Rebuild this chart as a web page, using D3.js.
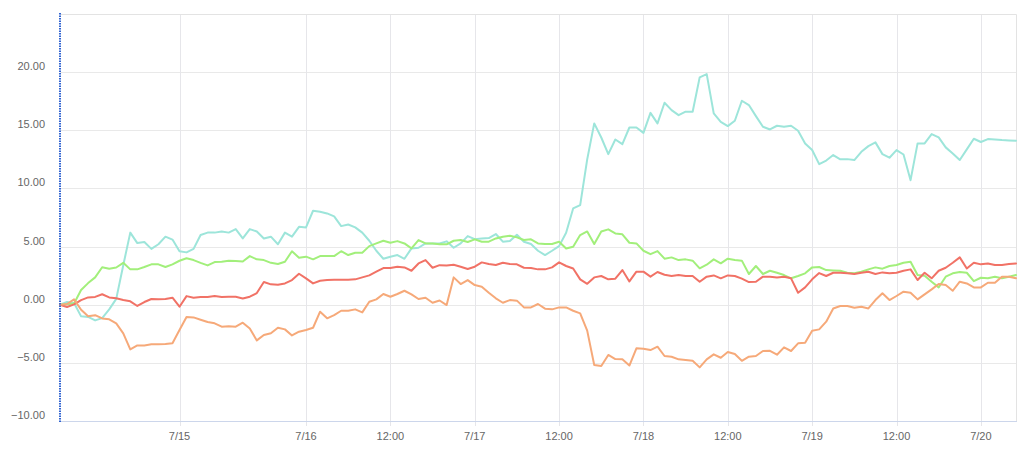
<!DOCTYPE html>
<html>
<head>
<meta charset="utf-8">
<script src="https://cdn.jsdelivr.net/npm/d3@7"></script>
<style>
  html, body { margin: 0; padding: 0; background: #ffffff; }
  svg { display: block; }
  text { font-family: "Liberation Sans", Arial, sans-serif; }
</style>
</head>
<body>
<svg id="chart" width="1024" height="456"></svg>
<script>
// ---- data (hourly points, index 0..136) ----
const tickIndex  = [17, 35, 47, 59, 71, 83, 95, 107, 119, 131];
const tickLabels = ["7/15", "7/16", "12:00", "7/17", "12:00", "7/18", "12:00", "7/19", "12:00", "7/20"];
const yTicks = [-10, -5, 0, 5, 10, 15, 20];

const seriesCyan = [
  0, 0.23, 0.15, -1.0, -1.05, -1.35, -1.15, -0.4, 0.5, 3.4,
  6.2, 5.3, 5.4, 4.8, 5.2, 5.85, 5.6, 4.6, 4.5, 4.8,
  6.0, 6.2, 6.2, 6.3, 6.2, 6.5, 5.7, 6.5, 6.3, 5.7,
  5.85, 5.2, 6.2, 5.85, 6.7, 6.65, 8.08, 8.0, 7.85, 7.6,
  6.76, 6.9, 6.65, 6.2, 5.5, 4.64, 3.95, 4.13, 4.27, 3.95,
  4.84, 4.9, 5.27, 5.27, 5.27, 5.45, 4.9, 5.27, 5.9, 5.64,
  5.7, 5.73, 6.08, 5.42, 5.47, 6.02, 5.42, 5.22, 4.64, 4.27,
  4.64, 5.04, 6.19, 8.28, 8.57, 12.5, 15.59, 14.38, 12.95, 14.21,
  13.81, 15.24, 15.24, 14.78, 16.5, 15.59, 17.37, 16.73, 16.3, 16.6,
  16.6, 19.55, 19.83, 16.45, 15.73, 15.36, 15.82, 17.54, 17.17, 16.22,
  15.3, 15.07, 15.39, 15.3, 15.39, 14.96, 13.87, 13.3, 12.09, 12.4,
  12.87, 12.5, 12.52, 12.44, 13.15, 13.64, 13.96, 12.95, 12.64, 13.3,
  12.92, 10.71, 13.87, 13.87, 14.67, 14.39, 13.53, 13.01, 12.44, 13.36,
  14.27, 13.99, 14.24, 14.21, 14.16, 14.13, 14.1
];
const seriesGreen = [
  0, 0.05, 0.1, 1.26, 1.86, 2.35, 3.22, 3.1, 3.2, 3.6,
  3.04, 3.04, 3.24, 3.47, 3.47, 3.24, 3.47, 3.78, 4.0, 3.84,
  3.6, 3.38, 3.67, 3.7, 3.78, 3.75, 3.72, 4.18, 3.9, 3.84,
  3.6, 3.5, 3.7, 4.6, 4.04, 4.13, 3.9, 4.18, 4.18, 4.18,
  4.6, 4.27, 4.47, 4.47, 5.04, 5.27, 5.5, 5.33, 5.47, 5.27,
  4.84, 5.56, 5.27, 5.27, 5.2, 5.19, 5.5, 5.56, 5.39, 5.62,
  5.42, 5.42, 5.7, 5.85, 5.93, 5.79, 5.56, 5.62, 5.27, 5.22,
  5.22, 5.42, 4.84, 4.99, 5.99, 6.3, 5.22, 6.3, 6.48, 6.13,
  6.05, 5.33, 5.27, 4.64, 4.35, 4.61, 3.96, 4.07, 3.84, 3.9,
  3.79, 3.13, 3.44, 3.9, 3.56, 3.96, 3.84, 3.79, 2.64, 3.33,
  2.64, 2.92, 2.75, 2.55, 2.27, 2.47, 2.7, 3.21, 3.24, 2.98,
  2.95, 2.92, 2.75, 2.7, 2.84, 3.04, 3.21, 3.1, 3.33, 3.41,
  3.61, 3.7, 2.55, 2.5, 1.98, 1.49, 2.41, 2.7, 2.81, 2.75,
  2.03, 2.32, 2.27, 2.41, 2.27, 2.41, 2.55
];
const seriesRed = [
  0, -0.2, 0.03, 0.4, 0.63, 0.67, 0.9, 0.63, 0.55, 0.4,
  0.29, -0.11, 0.23, 0.49, 0.46, 0.49, 0.6, -0.17, 0.74, 0.6,
  0.66, 0.66, 0.74, 0.66, 0.69, 0.69, 0.54, 0.69, 1.0, 1.95,
  1.75, 1.72, 1.83, 2.12, 2.66, 2.26, 1.83, 2.06, 2.12, 2.15,
  2.15, 2.15, 2.18, 2.35, 2.52, 2.84, 3.15, 3.15, 3.27, 3.21,
  2.92, 3.55, 3.84, 3.18, 3.4, 3.38, 3.44, 3.27, 3.07, 3.27,
  3.64, 3.5, 3.41, 3.61, 3.5, 3.47, 3.18, 3.15, 3.04, 3.04,
  3.21, 3.64, 3.33, 3.12, 2.18, 1.8, 2.35, 2.47, 2.18, 2.24,
  2.98, 2.0, 2.84, 2.84, 2.41, 2.81, 2.58, 2.47, 2.55, 2.47,
  2.47, 1.98, 2.41, 2.52, 2.27, 2.52, 2.47, 2.24, 1.95, 1.98,
  2.41, 2.41, 2.35, 2.41, 2.27, 1.03, 1.49, 2.18, 2.72, 2.47,
  2.75, 2.75, 2.7, 2.64, 2.75, 2.84, 2.64, 2.78, 2.7, 2.75,
  2.92, 3.04, 2.12, 2.75, 2.27, 2.92, 3.18, 3.61, 4.07, 3.12,
  3.61, 3.47, 3.55, 3.41, 3.41, 3.5, 3.55
];
const seriesOrange = [
  0, 0.06, 0.46, -0.43, -1.0, -0.9, -1.18, -1.26, -1.6, -2.46,
  -3.84, -3.5, -3.5, -3.4, -3.4, -3.38, -3.32, -2.18, -1.06, -1.09,
  -1.29, -1.49, -1.6, -1.89, -1.86, -1.89, -1.55, -2.05, -3.07, -2.6,
  -2.46, -1.98, -2.12, -2.64, -2.32, -2.18, -1.98, -0.6, -1.17, -0.89,
  -0.52, -0.52, -0.4, -0.66, 0.26, 0.46, 0.92, 0.69, 0.92, 1.2,
  0.89, 0.49, 0.6, 0.17, 0.36, -0.03, 2.35, 1.78, 2.12, 1.69,
  1.55, 1.03, 0.55, 0.17, 0.4, 0.35, -0.23, -0.23, 0.06, -0.34,
  -0.4, -0.23, -0.23, -0.52, -0.74, -2.23, -5.18, -5.27, -4.32, -4.67,
  -4.7, -5.23, -3.75, -3.78, -3.9, -3.61, -4.41, -4.47, -4.7, -4.76,
  -4.82, -5.39, -4.7, -4.27, -4.56, -4.07, -4.24, -4.82, -4.47, -4.41,
  -3.98, -3.96, -4.3, -3.67, -3.98, -3.32, -3.27, -2.23, -2.12, -1.46,
  -0.32, -0.11, -0.11, -0.26, -0.17, -0.32, 0.4, 0.98, 0.4, 0.75,
  1.12, 1.03, 0.46, 0.89, 1.32, 1.78, 1.69, 1.2, 1.98, 1.83,
  1.49, 1.49, 1.89, 1.89, 2.41, 2.41, 2.27
];
const seriesColors = ["#9de5da", "#a2ef7b", "#f17266", "#f6a979"];

// ---- layout ----
const svg = d3.select("#chart");
const plotL = 60, plotR = 1016, plotT = 14, plotB = 421;
const nPts = seriesCyan.length;

const xScale = d3.scaleLinear().domain([0, nPts - 1]).range([plotL, plotR]);
const yScale = d3.scaleLinear().domain([-10, 25]).range([plotB, plotT]);

// horizontal grid lines
svg.append("g").selectAll("line").data(yTicks).join("line")
  .attr("x1", plotL).attr("x2", plotR)
  .attr("y1", d => Math.round(yScale(d)) + 0.5).attr("y2", d => Math.round(yScale(d)) + 0.5)
  .attr("stroke", "#e9e9e9").attr("stroke-width", 1);

// vertical grid lines + tick marks
svg.append("g").selectAll("line").data(tickIndex).join("line")
  .attr("x1", d => Math.round(xScale(d)) + 0.5).attr("x2", d => Math.round(xScale(d)) + 0.5)
  .attr("y1", plotT).attr("y2", plotB + 5)
  .attr("stroke", "#e6e6ea").attr("stroke-width", 1);

// plot border (top, right)
svg.append("path")
  .attr("d", `M${plotL},${plotT + 0.5}H${plotR + 0.5}V${plotB}`)
  .attr("fill", "none").attr("stroke", "#e3e3e3").attr("stroke-width", 1);

// x axis line
svg.append("line")
  .attr("x1", plotL).attr("x2", plotR + 1)
  .attr("y1", plotB + 0.5).attr("y2", plotB + 0.5)
  .attr("stroke", "#ccd6eb").attr("stroke-width", 1);

// y labels
const fmt = d3.format(".2f");
svg.append("g").selectAll("text").data(yTicks).join("text")
  .attr("x", 45).attr("y", d => yScale(d) - 2)
  .attr("text-anchor", "end")
  .attr("font-size", 11)
  .attr("fill", "#666666")
  .text(d => fmt(d));

// x labels
svg.append("g").selectAll("text").data(tickIndex).join("text")
  .attr("x", d => xScale(d)).attr("y", 440)
  .attr("text-anchor", "middle")
  .attr("font-size", 11)
  .attr("fill", "#666666")
  .text((d, i) => tickLabels[i]);

// lines
const allSeries = [seriesCyan, seriesGreen, seriesRed, seriesOrange];
const lineGen = d3.line().x((d, i) => xScale(i)).y(d => yScale(d));
svg.append("g").selectAll("path").data(allSeries).join("path")
  .attr("d", d => lineGen(d))
  .attr("fill", "none")
  .attr("stroke", (d, i) => seriesColors[i])
  .attr("stroke-width", 2)
  .attr("stroke-linejoin", "round")
  .attr("stroke-linecap", "round");

// dotted left axis line
svg.append("line")
  .attr("x1", plotL).attr("x2", plotL)
  .attr("y1", plotT - 1).attr("y2", plotB + 1)
  .attr("stroke", "#2f62d0").attr("stroke-width", 2)
  .attr("stroke-dasharray", "1.5,1");
</script>
</body>
</html>
